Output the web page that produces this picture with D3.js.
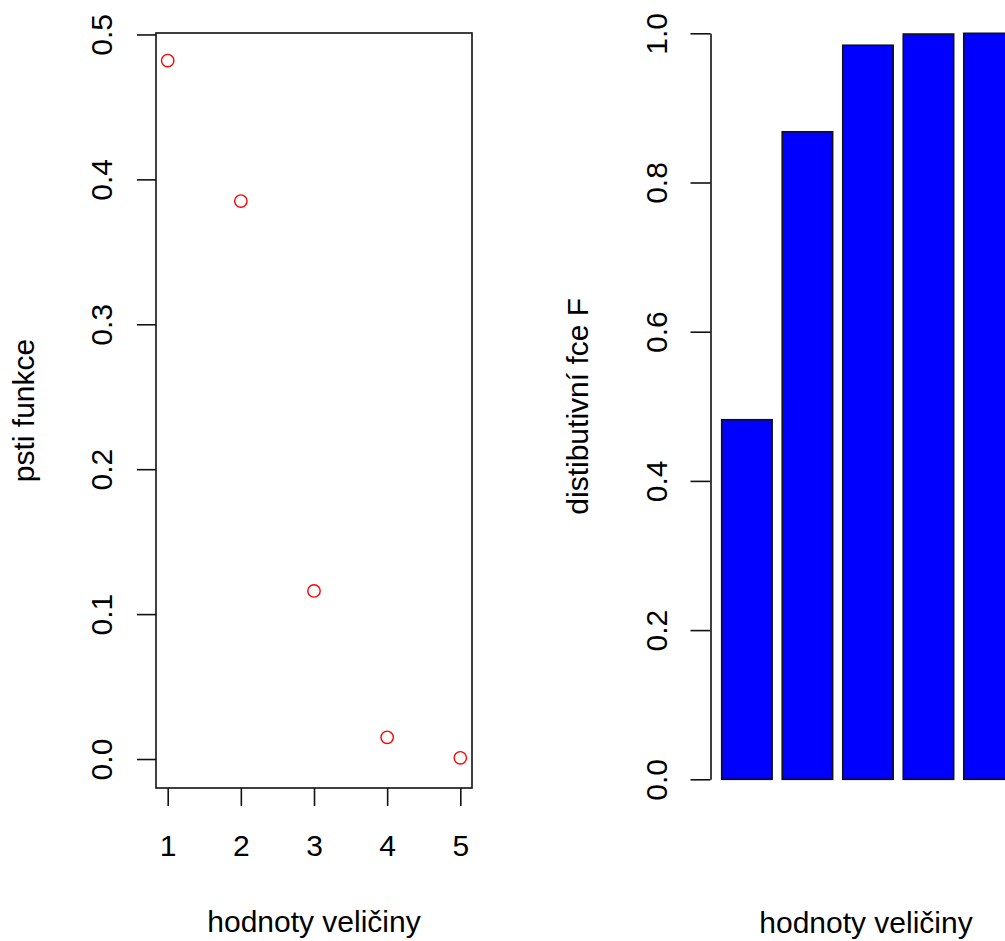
<!DOCTYPE html>
<html>
<head>
<meta charset="utf-8">
<script src="https://cdn.jsdelivr.net/npm/d3@7.9.0/dist/d3.min.js"></script>
<style>
  body { margin: 0; background: #fff; }
  text { font-family: 'Liberation Sans', Arial, sans-serif; fill: #000; }
</style>
</head>
<body>
<svg id="chart"></svg>
<script>
// values of the random variable and its probabilities
const hodnoty = [1, 2, 3, 4, 5];
const pst = [0.482, 0.385, 0.116, 0.015, 0.0008];
const distribuce = [0.482, 0.868, 0.984, 0.999, 1.0];

const leftYTicks = [0, 0.1, 0.2, 0.3, 0.4, 0.5];
const rightYTicks = [0, 0.2, 0.4, 0.6, 0.8, 1.0];

const xTitle = 'hodnoty veličiny';
const leftYTitle = 'psti funkce';
const rightYTitle = 'distibutivní fce F';

const width = 1005;
const height = 941;
const fontSize = 30;
const ink = '#111';

const svg = d3.select('#chart').attr('width', width).attr('height', height);

// left panel: plot region box
const left = { x0: 156, x1: 472, y0: 33, y1: 788 };

const xLeft = d3.scaleLinear().domain([0.84, 5.16]).range([left.x0, left.x1]);
const yLeft = d3.scaleLinear().domain([-0.02, 0.501]).range([left.y1, left.y0]);

// rotate y tick labels like R does (las = 0)
function rotateLabels(g, offset) {
  g.selectAll('.tick text')
    .attr('transform', 'rotate(-90)')
    .attr('x', 0)
    .attr('y', -offset)
    .attr('dy', 0)
    .attr('text-anchor', 'middle');
}

function styleAxis(g) {
  g.attr('font-size', fontSize).attr('font-family', null);
  g.selectAll('line, path').attr('stroke', ink).attr('stroke-width', 1.6);
  g.selectAll('text').attr('fill', ink);
}

svg.append('g')
  .attr('transform', `translate(${left.x0},0)`)
  .call(d3.axisLeft(yLeft).tickValues(leftYTicks).tickFormat(d3.format('.1f')).tickSize(19))
  .call((g) => g.select('.domain').remove())
  .call(styleAxis)
  .call((g) => rotateLabels(g, 44));

svg.append('g')
  .attr('transform', `translate(0,${left.y1})`)
  .call(d3.axisBottom(xLeft).tickValues(hodnoty).tickFormat(d3.format('d')).tickSize(18))
  .call((g) => g.select('.domain').remove())
  .call(styleAxis)
  .call((g) => g.selectAll('.tick text').attr('y', 68).attr('dy', 0));

svg.append('rect')
  .attr('x', left.x0)
  .attr('y', left.y0)
  .attr('width', left.x1 - left.x0)
  .attr('height', left.y1 - left.y0)
  .attr('fill', 'none')
  .attr('stroke', ink)
  .attr('stroke-width', 1.6);

svg.selectAll('circle.pst')
  .data(pst)
  .join('circle')
  .attr('class', 'pst')
  .attr('cx', (d, i) => xLeft(hodnoty[i]))
  .attr('cy', (d) => yLeft(d))
  .attr('r', 6.2)
  .attr('fill', 'none')
  .attr('stroke', '#ff0000')
  .attr('stroke-width', 1.4);

svg.append('text')
  .attr('x', (left.x0 + left.x1) / 2)
  .attr('y', 932)
  .attr('text-anchor', 'middle')
  .attr('font-size', fontSize)
  .text(xTitle);

svg.append('text')
  .attr('transform', `translate(34,${(left.y0 + left.y1) / 2}) rotate(-90)`)
  .attr('text-anchor', 'middle')
  .attr('font-size', fontSize)
  .text(leftYTitle);

// right panel: barplot of the distribution function (cut at the right edge)
const axisX = 710.5;
const xRight = d3.scaleBand()
  .domain(hodnoty)
  .range([721.7, 1014.2])
  .paddingInner(1 / 6)
  .paddingOuter(0);
const yRight = d3.scaleLinear().domain([0, 1]).range([779.3, 33.3]);

svg.selectAll('rect.bar')
  .data(distribuce)
  .join('rect')
  .attr('class', 'bar')
  .attr('x', (d, i) => xRight(hodnoty[i]))
  .attr('y', (d) => yRight(d))
  .attr('width', xRight.bandwidth())
  .attr('height', (d) => yRight(0) - yRight(d))
  .attr('fill', '#0000ff')
  .attr('stroke', ink)
  .attr('stroke-width', 1.6);

svg.append('g')
  .attr('transform', `translate(${axisX},0)`)
  .call(d3.axisLeft(yRight).tickValues(rightYTicks).tickFormat(d3.format('.1f')).tickSize(20).tickSizeOuter(0))
  .call(styleAxis)
  .call((g) => rotateLabels(g, 44));

svg.append('text')
  .attr('x', 866)
  .attr('y', 933)
  .attr('text-anchor', 'middle')
  .attr('font-size', fontSize)
  .text(xTitle);

svg.append('text')
  .attr('transform', `translate(588,${(yRight(0) + yRight(1)) / 2}) rotate(-90)`)
  .attr('text-anchor', 'middle')
  .attr('font-size', fontSize)
  .text(rightYTitle);
</script>
</body>
</html>
